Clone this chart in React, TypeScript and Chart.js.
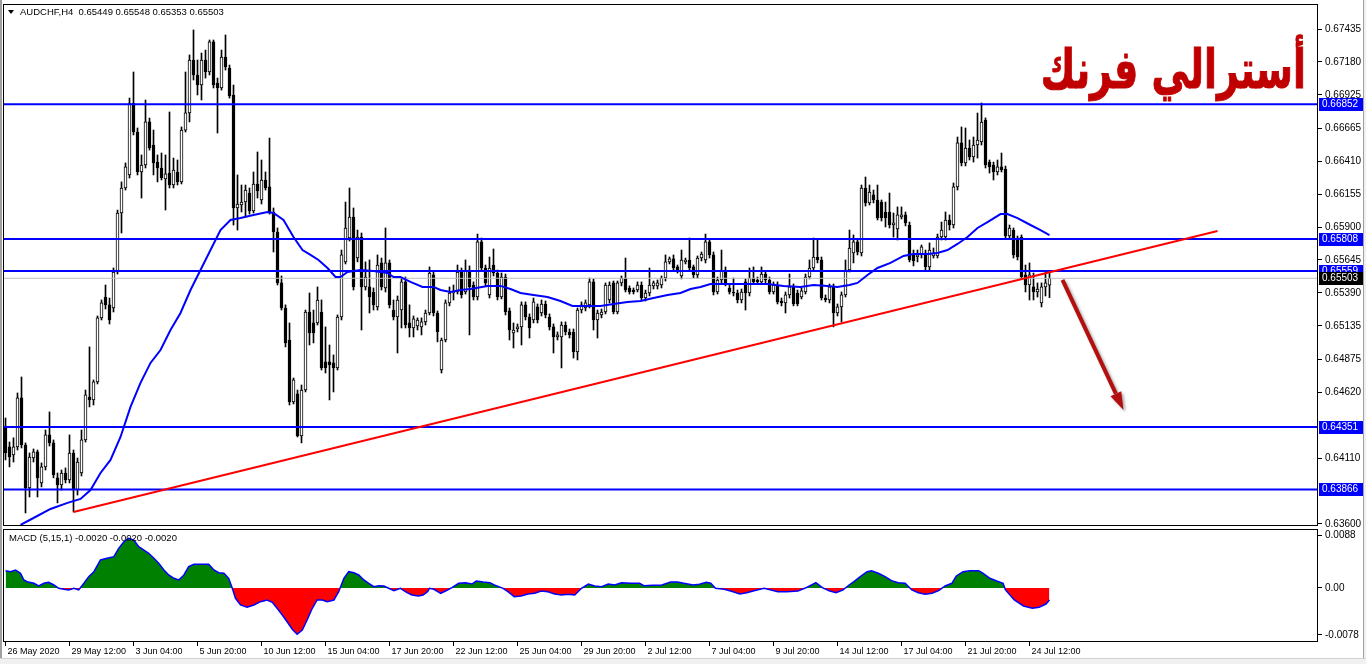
import React, { useEffect, useRef } from 'react';
import { Chart, registerables } from 'chart.js';
Chart.register(...registerables);

// ---- candle data (prices in points, 1 point = 0.00001) ----
const OPEN = [
64358,64196,64134,64196,64576,64211,63878,64110,64157,63917,
64041,64289,64227,63956,63901,63994,63940,64149,63862,63994,
64250,64583,64560,64700,65196,65358,65297,65273,65552,66009,
66203,66304,66862,66637,66327,66381,66715,66536,66404,66358,
66273,66319,66226,66327,66250,66652,66785,67195,67079,67001,
67195,67102,67335,67017,66978,67218,67133,66924,66048,66071,
66094,66164,66025,66234,66110,66265,66211,66017,65862,65467,
65273,65025,64545,64607,64281,64637,65242,65157,65157,65242,
64855,64855,64847,64808,65203,65630,65815,65978,65660,65823,
65436,65436,65397,65281,65622,65428,65622,65257,65203,65257,
65475,65157,65118,65134,65126,65165,65234,65529,65234,64792,
65025,65312,65389,65397,65552,65397,65567,65451,65358,65785,
65583,65374,65606,65544,65358,65513,65250,65079,65110,65126,
65297,65203,65180,65281,65234,65304,65203,65126,65048,65048,
65141,65087,65087,64932,65257,65273,65297,65475,65180,65219,
65242,65335,65467,65242,65467,65505,65428,65412,65412,65451,
65350,65389,65444,65444,65451,65505,65630,65653,65591,65521,
65630,65645,65591,65529,65660,65645,65785,65684,65397,65490,
65567,65428,65397,65389,65335,65475,65389,65505,65490,65475,
65536,65490,65397,65451,65327,65312,65374,65436,65389,65358,
65397,65513,65583,65668,65645,65350,65335,65436,65234,65281,
65374,65567,65699,65785,65699,66203,66087,66149,66110,66094,
66017,66017,65916,65885,65978,65994,65916,65684,65668,65684,
65699,65591,65676,65676,65823,65823,65955,65916,66211,66552,
66397,66513,66443,66536,66560,66730,66404,66381,66327,66366,
66350,65831,65877,65815,65823,65529,65451,65436,65397,65312,
65436,65449];
const HIGH = [
64420,64234,64266,64614,64738,64227,64149,64180,64172,64072,
64327,64467,64250,63994,64017,64033,64289,64172,64110,64327,
64637,64971,64715,65211,65335,65451,65350,65583,66032,66250,
66397,66900,67102,66668,66459,66885,66745,66652,66459,66474,
66459,66792,66435,66420,66676,67102,67234,67428,67195,67249,
67272,67350,67350,67055,67272,67389,67156,67001,66304,66226,
66226,66203,66327,66482,66420,66327,66590,66048,65893,65521,
65297,65157,64730,64637,64676,65257,65389,65257,65436,65335,
65126,64986,64909,65219,65722,66094,66203,66048,65877,65854,
65630,65645,65428,65684,65660,65893,65645,65335,65366,65498,
65513,65297,65211,65196,65196,65257,65591,65552,65250,65040,
65335,65436,65451,65606,65583,65645,65599,65475,65846,65815,
65606,65668,65730,65567,65544,65536,65273,65157,65149,65320,
65320,65227,65350,65304,65335,65327,65227,65149,65087,65165,
65165,65110,65110,65273,65320,65335,65505,65498,65257,65265,
65467,65475,65482,65482,65521,65660,65444,65428,65475,65475,
65412,65583,65482,65490,65521,65684,65668,65684,65606,65722,
65660,65815,65606,65676,65707,65846,65808,65707,65513,65722,
65591,65451,65505,65412,65420,65498,65583,65591,65513,65591,
65560,65513,65475,65475,65350,65397,65536,65459,65412,65428,
65536,65645,65815,65800,65668,65374,65459,65459,65304,65397,
65645,65877,65839,65800,66226,66288,66226,66187,66226,66110,
66094,66164,66009,66056,66056,66017,65939,65722,65722,65761,
65722,65777,65738,65846,65939,66017,65994,66242,66598,66676,
66668,66575,66598,66784,66862,66746,66420,66404,66420,66474,
66373,65916,65893,65831,65839,65606,65622,65544,65467,65467,
65552,65548];
const LOW = [
64095,64041,64079,64172,64188,63684,63808,64079,63808,63886,
64017,64203,63956,63762,63862,63917,63917,63692,63823,63971,
64234,64506,64521,64684,65180,65265,65149,65242,65536,65854,
66187,66280,66614,66304,66125,66358,66497,66304,66250,66265,
66032,66203,66203,66226,66234,66637,66715,67040,66924,66885,
67055,67079,66978,66629,66962,67117,66900,65916,65877,66017,
65978,66001,66009,66125,66079,66187,66001,65707,65451,65257,
64971,64521,64529,64273,64227,64622,64986,65002,65141,64792,
64769,64560,64622,64792,65180,65614,65792,65412,65630,65102,
65412,65234,65257,65257,65412,65397,65273,65180,64924,65118,
65118,65048,65048,65102,65064,65141,65219,65211,65010,64769,
65010,65289,65335,65381,65350,65381,65064,65335,65335,65560,
65444,65350,65521,65335,65343,65219,65025,64963,65087,64986,
65180,65040,65157,65157,65211,65196,65102,64924,65025,64808,
65064,65040,64885,64870,65234,65250,65273,65102,65040,65196,
65227,65312,65227,65227,65444,65397,65381,65381,65397,65327,
65327,65366,65420,65420,65428,65482,65614,65560,65544,65498,
65614,65560,65505,65505,65637,65622,65660,65374,65381,65467,
65444,65381,65366,65312,65312,65257,65366,65459,65459,65459,
65467,65381,65381,65304,65289,65234,65350,65289,65289,65343,
65381,65498,65560,65622,65335,65320,65312,65126,65211,65165,
65358,65552,65622,65684,65676,66063,66071,66087,65955,65947,
65901,65893,65823,65800,65963,65909,65630,65599,65630,65660,
65567,65567,65660,65660,65800,65800,65877,65893,66187,66374,
66374,66420,66404,66435,66536,66358,66319,66265,66304,66327,
65815,65815,65660,65645,65498,65397,65335,65335,65358,65281,
65366,65353];
const CLOSE = [
64149,64118,64196,64576,64211,63878,64118,64157,63956,64041,
64289,64227,63979,63901,63994,63940,64149,63862,64079,64250,
64599,64560,64700,65196,65312,65297,65180,65552,66009,66203,
66366,66862,66637,66327,66381,66715,66513,66397,66358,66280,
66312,66226,66342,66250,66652,66785,67195,67079,67001,67195,
67102,67335,67001,66978,67218,67141,66916,66048,66079,66094,
66187,66025,66234,66180,66265,66203,66017,65862,65467,65273,
65002,64545,64715,64281,64637,65242,65079,65079,65335,64808,
64808,64831,64808,65203,65684,65893,65978,65436,65823,65436,
65513,65358,65297,65606,65436,65622,65297,65203,65335,65475,
65141,65118,65188,65180,65165,65234,65544,65234,65087,65025,
65312,65389,65397,65552,65374,65567,65436,65358,65785,65583,
65467,65583,65544,65358,65513,65242,65102,65102,65126,65297,
65203,65118,65320,65180,65304,65219,65126,65048,65064,65141,
65087,65064,64932,65257,65297,65312,65475,65180,65234,65242,
65451,65451,65242,65467,65505,65412,65397,65397,65451,65350,
65389,65451,65467,65467,65505,65630,65653,65583,65567,65645,
65645,65583,65529,65660,65691,65785,65684,65397,65490,65567,
65467,65397,65389,65335,65397,65389,65505,65475,65475,65536,
65490,65397,65451,65320,65312,65374,65436,65304,65304,65405,
65513,65583,65668,65645,65350,65335,65436,65234,65281,65374,
65567,65738,65785,65707,66203,66087,66172,66110,65970,65970,
65970,65916,65932,65994,65994,65932,65645,65637,65684,65746,
65591,65722,65699,65823,65877,65955,65916,66211,66552,66397,
66513,66443,66536,66575,66714,66381,66366,66327,66366,66342,
65831,65893,65684,65668,65513,65451,65529,65397,65420,65436,
65467,65503];

// ---- moving average (bar index, price in points) ----
const MA_IDX = [3.75,7,11.25,15.5,18.75,21.25,23.75,26.25,28.75,31.25,33.75,36.25,38.75,41.25,43.75,46.25,48.75,51.25,53.75,56.25,58.75,62,65.5,67,69.5,72,74.25,76.25,78.25,80.5,82.5,83.75,85.5,88.75,92,95.5,97,98.75,101.25,104.25,107,108.75,111.25,113.75,116.25,120.5,123.75,126.25,128.75,132,135.5,138.75,141.75,144.5,148.75,152,155.5,158.75,162,165.5,168.75,171.25,173.75,176.25,179.5,183,186.25,190.5,194.5,198.75,202,205.5,208,211,213,215.5,218,221.25,224.5,227,230.5,233,235.5,238,240.5,243,245.5,248.75,250.5,253,256.25,258.75,261];
const MA_VAL = [63591,63645,63715,63762,63793,63862,63994,64095,64273,64506,64692,64847,64947,65102,65234,65412,65567,65722,65877,65955,65970,65994,66017,66009,65955,65823,65722,65684,65645,65583,65513,65513,65552,65567,65560,65544,65513,65513,65475,65436,65436,65412,65397,65412,65420,65444,65444,65420,65389,65374,65358,65327,65289,65289,65289,65304,65320,65327,65350,65374,65389,65420,65436,65459,65459,65459,65459,65459,65444,65436,65451,65444,65436,65451,65467,65529,65583,65622,65676,65691,65691,65699,65722,65769,65823,65893,65939,66001,66001,65970,65916,65877,65838];

// ---- MACD (5,15,1) ----
const MACD_IDX = [0,1.25,2.5,3.75,4.6,5.4,7.1,8.3,9.6,10.8,12.1,13.3,14.6,15.8,17.1,18.3,19.6,20.8,22.1,23.75,25.4,27.1,28.3,29.6,30.8,32.1,33.3,34.6,35.8,37.1,38.3,39.6,40.8,42.1,43.3,44.6,45.8,47.1,48.75,50.8,52.1,53.3,54.6,55.8,56.7,57.5,58.75,60.4,62.1,63.75,65.4,66.7,67.9,69.2,70.4,71.7,72.9,74.2,75.4,76.7,77.9,79.2,80.4,82.1,83.3,84.6,85.8,87.1,88.3,89.6,90.8,92.1,93.3,94.6,95.8,97.1,98.75,
99.3,100.4,101.6,103.2,104.4,105.5,106.0,107.1,108.8,110.5,111.6,113.3,115.0,116.6,117.7,119.4,121.1,122.2,123.3,124.4,125.6,127.2,128.9,130.6,132.3,133.9,135.6,137.3,139.0,140.6,142.3,144.0,145.7,147.3,149.0,150.7,152.3,154.0,156.3,158.5,159.6,161.8,164.1,166.3,168.0,169.6,171.9,173.5,175.2,176.3,177.5,179.7,181.9,183.6,185.3,186.9,188.6,189.7,191.4,193.1,195.3,198.1,199.8,201.5,202.6,204.2,205.9,207.6,209.3,210.9,212.1,213.7,215.4,216.5,218.2,219.9,221.5,223.2,224.9,226.6,228.2,229.9,231.6,233.3,234.9,236.6,237.7,239.4,241.1,243.3,244.4,246.1,247.8,249.4,250.0,252.2,254.5,256.7,258.4,260.1,261];
const MACD_VAL = [0.00287,0.00271,0.00299,0.00244,0.00133,0.00105,0.00078,0.00033,0.00078,0.00095,0.0005,-0.00005,-0.00022,-0.00033,-0.00005,-0.00033,0.00078,0.00188,0.00271,0.00465,0.00493,0.0052,0.00659,0.00769,0.00825,0.00797,0.00686,0.00631,0.00576,0.00493,0.0041,0.00299,0.00216,0.00161,0.00133,0.00216,0.00354,0.00393,0.00393,0.00393,0.00299,0.00254,0.00244,0.00161,-0.00005,-0.00171,-0.00282,-0.0032,-0.00282,-0.00227,-0.00199,-0.00237,-0.00337,-0.00448,-0.0056,-0.00686,-0.00769,-0.00697,-0.00531,-0.00337,-0.00199,-0.00199,-0.00227,-0.00199,-0.00061,0.00161,0.00271,0.00254,0.00216,0.00133,0.00078,0.00022,0.00038,0.00033,-0.00005,-0.00045,-0.00005,
-0.00033,-0.00078,-0.00116,-0.00133,-0.00116,-0.00061,-0.00005,-0.00022,-0.00088,-0.00033,0.00005,0.00078,0.00088,0.00066,0.00116,0.001,0.00088,0.0005,0.00022,-0.00005,-0.00061,-0.00144,-0.00133,-0.001,-0.00088,-0.0005,-0.00061,-0.001,-0.00116,-0.00105,-0.00116,-0.00005,0.00066,0.00033,0.00022,0.00066,0.0005,0.00088,0.00078,0.00078,0.00038,0.00044,0.0005,0.001,0.001,0.00078,0.0005,0.00061,0.00095,0.00078,-0.00005,-0.00022,-0.00061,-0.001,-0.00078,-0.0005,-0.00022,-0.00005,-0.00033,-0.00061,-0.00061,-0.0005,-0.00005,0.0005,0.00088,0.00005,-0.00045,-0.00078,-0.00033,0.0005,0.00105,0.00188,0.00271,0.00287,0.00244,0.00188,0.00122,0.00088,0.00078,-0.00033,-0.00078,-0.00105,-0.00088,-0.00045,0.00033,0.00078,0.002,0.00271,0.00287,0.00287,0.00244,0.00161,0.00116,0.00078,-0.00033,-0.00199,-0.00299,-0.00337,-0.0032,-0.00266,-0.0020];

// ---- levels, ticks, labels ----
const LEVELS = [0.66852, 0.65808, 0.65559, 0.64351, 0.63866];
const BID = 0.65503;
const PRICE_TICKS = [0.67435,0.67180,0.66925,0.66665,0.66410,0.66155,0.65900,0.65645,0.65390,0.65135,0.64875,0.64620,0.64110,0.63600];
const MACD_TICKS = [0.0088, 0, -0.0078];
const DATE_TICK_IDX = [0,16,32,48,64,80,96,112,128,144,160,176,192,208,224,240,256];
const DATE_LABELS = ['26 May 2020','29 May 12:00','3 Jun 04:00','5 Jun 20:00','10 Jun 12:00','15 Jun 04:00','17 Jun 20:00','22 Jun 12:00','25 Jun 04:00','29 Jun 20:00','2 Jul 12:00','7 Jul 04:00','9 Jul 20:00','14 Jul 12:00','17 Jul 04:00','21 Jul 20:00','24 Jul 12:00'];
const TREND_IDX = [17, 303];
const TREND_VAL = [0.63692, 0.65870];
const ARROW_IDX = [264.25, 279.5];
const ARROW_VAL = [0.65490, 0.64482];
const HEADER = 'AUDCHF,H4  0.65449 0.65548 0.65353 0.65503';
const MACD_HEADER = 'MACD (5,15,1) -0.0020 -0.0020 -0.0020';
const TITLE = 'أسترالي فرنك';

const X_MIN = -0.625;
const X_MAX = 328.125;
const FONT = 'Liberation Sans';

export default function App() {
  const mainRef = useRef<HTMLCanvasElement>(null);
  const macdRef = useRef<HTMLCanvasElement>(null);

  useEffect(() => {
    const P = (v: number) => v / 100000;
    const font = { family: FONT, size: 10 };

    const mainOverlay = {
      id: 'mainOverlay',
      afterDraw(chart: any) {
        const { ctx, chartArea: a, scales } = chart;
        const ys = scales.y, xs = scales.x;
        ctx.save();
        // arrow
        const x0 = xs.getPixelForValue(ARROW_IDX[0]), y0 = ys.getPixelForValue(ARROW_VAL[0]);
        const x1 = xs.getPixelForValue(ARROW_IDX[1]), y1 = ys.getPixelForValue(ARROW_VAL[1]);
        const ang = Math.atan2(y1 - y0, x1 - x0);
        const hl = 18, hw = 6;
        const bx = x1 - hl * Math.cos(ang), by = y1 - hl * Math.sin(ang);
        ctx.shadowColor = 'rgba(0,0,0,0.35)';
        ctx.shadowBlur = 3; ctx.shadowOffsetX = 2; ctx.shadowOffsetY = 2;
        ctx.strokeStyle = '#b40f0f'; ctx.lineWidth = 4; ctx.lineCap = 'butt';
        ctx.beginPath(); ctx.moveTo(x0, y0); ctx.lineTo(bx, by); ctx.stroke();
        ctx.fillStyle = '#b40f0f';
        ctx.beginPath();
        ctx.moveTo(x1, y1);
        ctx.lineTo(bx + hw * Math.sin(ang), by - hw * Math.cos(ang));
        ctx.lineTo(bx - hw * Math.sin(ang), by + hw * Math.cos(ang));
        ctx.closePath(); ctx.fill();
        ctx.shadowColor = 'transparent'; ctx.shadowBlur = 0; ctx.shadowOffsetX = 0; ctx.shadowOffsetY = 0;
        // frame
        ctx.strokeStyle = '#000'; ctx.lineWidth = 1;
        ctx.strokeRect(a.left + 0.5, a.top + 0.5, a.right - a.left - 1, a.bottom - a.top - 1);
        // header
        ctx.fillStyle = '#000';
        ctx.beginPath(); ctx.moveTo(8, 10); ctx.lineTo(14, 10); ctx.lineTo(11, 14); ctx.closePath(); ctx.fill();
        ctx.font = `9.5px "${FONT}"`; ctx.textBaseline = 'middle'; ctx.textAlign = 'left';
        ctx.fillText(HEADER, 20, 12);
        // level labels
        ctx.font = `10px "${FONT}"`;
        LEVELS.forEach((v) => {
          const y = Math.round(ys.getPixelForValue(v));
          ctx.fillStyle = '#0000ff';
          ctx.fillRect(a.right + 1, y - 6, 44, 13);
          ctx.fillStyle = '#ffffff';
          ctx.fillText(v.toFixed(5), a.right + 4, y + 0.5);
        });
        const yb = Math.round(ys.getPixelForValue(BID));
        ctx.fillStyle = '#000';
        ctx.fillRect(a.right + 1, yb - 6, 44, 13);
        ctx.fillStyle = '#fff';
        ctx.fillText(BID.toFixed(5), a.right + 4, yb + 0.5);
        ctx.restore();
      },
    };

    const macdOverlay = {
      id: 'macdOverlay',
      afterDraw(chart: any) {
        const { ctx, chartArea: a } = chart;
        ctx.save();
        ctx.strokeStyle = '#000'; ctx.lineWidth = 1;
        ctx.strokeRect(a.left + 0.5, a.top + 0.5, a.right - a.left - 1, a.bottom - a.top - 1);
        ctx.fillStyle = '#000';
        ctx.font = `9.5px "${FONT}"`; ctx.textBaseline = 'middle'; ctx.textAlign = 'left';
        ctx.fillText(MACD_HEADER, 9, a.top + 9);
        ctx.restore();
      },
    };

    const levelSets = LEVELS.map((v) => ({
      type: 'line',
      data: [{ x: X_MIN, y: v }, { x: X_MAX, y: v }],
      borderColor: '#0000ff', borderWidth: 2, pointRadius: 0, order: 3,
    }));

    const main = new Chart(mainRef.current as HTMLCanvasElement, {
      type: 'bar',
      data: {
        datasets: [
          ...levelSets,
          { type: 'line', data: [{ x: X_MIN, y: BID }, { x: X_MAX, y: BID }], borderColor: '#c0c0c0', borderWidth: 1, pointRadius: 0, order: 4 },
          { type: 'line', data: TREND_IDX.map((x, i) => ({ x, y: TREND_VAL[i] })), borderColor: '#ff0000', borderWidth: 2, pointRadius: 0, order: 2 },
          { type: 'line', data: MA_IDX.map((x, i) => ({ x, y: P(MA_VAL[i]) })), borderColor: '#0000ff', borderWidth: 2, pointRadius: 0, order: 1 },
          {
            type: 'bar',
            data: OPEN.map((o, i) => ({ x: i, y: [P(o), P(CLOSE[i])] })),
            backgroundColor: OPEN.map((o, i) => (CLOSE[i] >= o ? '#ffffff' : '#000000')),
            borderColor: '#000000', borderWidth: 1, borderSkipped: false,
            barThickness: 3, grouped: false, minBarLength: 1, order: 5,
          },
          {
            type: 'bar',
            data: LOW.map((l, i) => ({ x: i, y: [P(l), P(HIGH[i])] })),
            backgroundColor: '#000000', borderWidth: 0,
            barThickness: 1, grouped: false, order: 6,
          },
        ] as any,
      },
      options: {
        animation: false, responsive: false, devicePixelRatio: 1, events: [],
        layout: { padding: { left: 3, top: 4, right: 0, bottom: 2 } },
        plugins: { legend: { display: false }, tooltip: { enabled: false } },
        scales: {
          x: { type: 'linear', min: X_MIN, max: X_MAX, display: false, offset: false, grid: { offset: false } },
          y: {
            type: 'linear', position: 'right', min: 0.63583, max: 0.67629,
            afterBuildTicks: (s: any) => { s.ticks = PRICE_TICKS.map((v) => ({ value: v })); },
            afterFit: (s: any) => { s.width = 48; s.paddingTop = 0; s.paddingBottom = 0; },
            ticks: { font, color: '#000', padding: 3, autoSkip: false, callback: (v: any) => Number(v).toFixed(5) },
            grid: { drawOnChartArea: false, drawTicks: true, tickLength: 4, color: '#000' },
            border: { display: false },
          },
        },
      } as any,
      plugins: [mainOverlay],
    });

    const macd = new Chart(macdRef.current as HTMLCanvasElement, {
      type: 'line',
      data: {
        datasets: [{
          data: MACD_IDX.map((x, i) => ({ x, y: MACD_VAL[i] })),
          borderColor: '#0000ff', borderWidth: 1.5, pointRadius: 0,
          fill: { target: 'origin', above: '#008000', below: '#ff0000' },
        }],
      },
      options: {
        animation: false, responsive: false, devicePixelRatio: 1, events: [],
        layout: { padding: { left: 3, top: 1, right: 0, bottom: 0 } },
        plugins: { legend: { display: false }, tooltip: { enabled: false } },
        scales: {
          x: {
            type: 'linear', min: X_MIN, max: X_MAX, position: 'bottom', offset: false,
            afterBuildTicks: (s: any) => { s.ticks = DATE_TICK_IDX.map((v) => ({ value: v })); },
            afterFit: (s: any) => { s.height = 22; s.paddingLeft = 0; s.paddingRight = 0; },
            ticks: {
              font: { family: FONT, size: 9 }, color: '#000', padding: 0, align: 'start', labelOffset: 2,
              maxRotation: 0, minRotation: 0, autoSkip: false,
              callback: (v: any) => { const k = DATE_TICK_IDX.indexOf(Number(v)); return k >= 0 ? DATE_LABELS[k] : ''; },
            },
            grid: { drawOnChartArea: false, drawTicks: true, tickLength: 4, color: '#000' },
            border: { display: false },
          },
          y: {
            type: 'linear', position: 'right', min: -0.00897, max: 0.0098,
            afterBuildTicks: (s: any) => { s.ticks = MACD_TICKS.map((v) => ({ value: v })); },
            afterFit: (s: any) => { s.width = 48; s.paddingTop = 0; s.paddingBottom = 0; },
            ticks: { font, color: '#000', padding: 3, autoSkip: false, callback: (v: any) => (Number(v) === 0 ? '0.00' : Number(v).toFixed(4)) },
            grid: { drawOnChartArea: false, drawTicks: true, tickLength: 4, color: '#000' },
            border: { display: false },
          },
        },
      } as any,
      plugins: [macdOverlay],
    });

    return () => { main.destroy(); macd.destroy(); };
  }, []);

  return (
    <div style={{ position: 'fixed', left: 0, top: 0, width: 1366, height: 664, background: '#fff', overflow: 'hidden' }}>
      <canvas ref={mainRef} width={1366} height={528} style={{ position: 'absolute', left: 0, top: 0 }} />
      <canvas ref={macdRef} width={1366} height={136} style={{ position: 'absolute', left: 0, top: 528 }} />
      <div style={{ position: 'absolute', right: 60, top: 43, direction: 'rtl', whiteSpace: 'nowrap', fontFamily: '"DejaVu Sans", sans-serif', fontWeight: 'bold', fontSize: 54, lineHeight: '54px', color: '#c00000', transform: 'scaleX(0.7)', transformOrigin: 'right top', WebkitTextStroke: '1px #c00000' }}>{TITLE}</div>
      <div style={{ position: 'absolute', left: 0, top: 0, width: 2, height: 658, background: '#a0a0a0' }} />
      <div style={{ position: 'absolute', left: 1363, top: 0, width: 3, height: 664, background: '#f0f0f0', borderLeft: '1px solid #a0a0a0' }} />
      <div style={{ position: 'absolute', left: 0, top: 658, width: 1366, height: 6, background: '#f0f0f0', borderTop: '1px solid #d0d0d0' }} />
    </div>
  );
}
